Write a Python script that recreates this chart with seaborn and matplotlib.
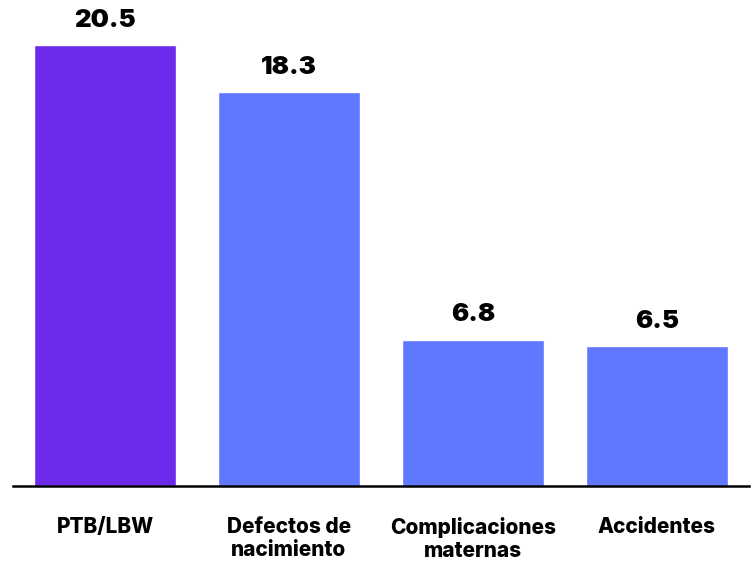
import pandas as pd
import seaborn as sns
import matplotlib.pyplot as plt

# data
categories = ['PTB/LBW', 'Defectos de\nnacimiento', 'Complicaciones\nmaternas', 'Accidentes']
values = [20.5, 18.3, 6.8, 6.5]
colors = ['#6E2AEA', '#6077FF', '#6077FF', '#6077FF']

df = pd.DataFrame({'cause': categories, 'value': values})

sns.set_style('white')
plt.rcParams['font.family'] = ['Inter', 'DejaVu Sans']

fig = plt.figure(figsize=(7.54, 5.63), dpi=100)
ax = fig.add_axes([13/754, 77/563, 736/754, 486/563])

sns.barplot(data=df, x='cause', y='value', hue='cause', palette=colors,
            width=0.77, saturation=1, legend=False, ax=ax)

for i, v in enumerate(values):
    ax.text(i, v + 0.62, f'{v:.1f}', ha='center', va='bottom',
            fontsize=18.5, fontweight='black', color='black')

ax.set_xlim(-0.5, 3.5)
ax.set_ylim(0, 22.6)
ax.set_xlabel('')
ax.set_ylabel('')
ax.set_yticks([])
ax.tick_params(axis='x', length=0, pad=22)
for lbl in ax.get_xticklabels():
    lbl.set_fontsize(15)
    lbl.set_fontweight('heavy')
    lbl.set_color('black')
    lbl.set_verticalalignment('top')
    lbl.set_linespacing(1.2)

for s in ['top', 'right', 'left']:
    ax.spines[s].set_visible(False)
ax.spines['bottom'].set_linewidth(1.8)
ax.spines['bottom'].set_color('black')

fig.savefig('out.png', dpi=100)
